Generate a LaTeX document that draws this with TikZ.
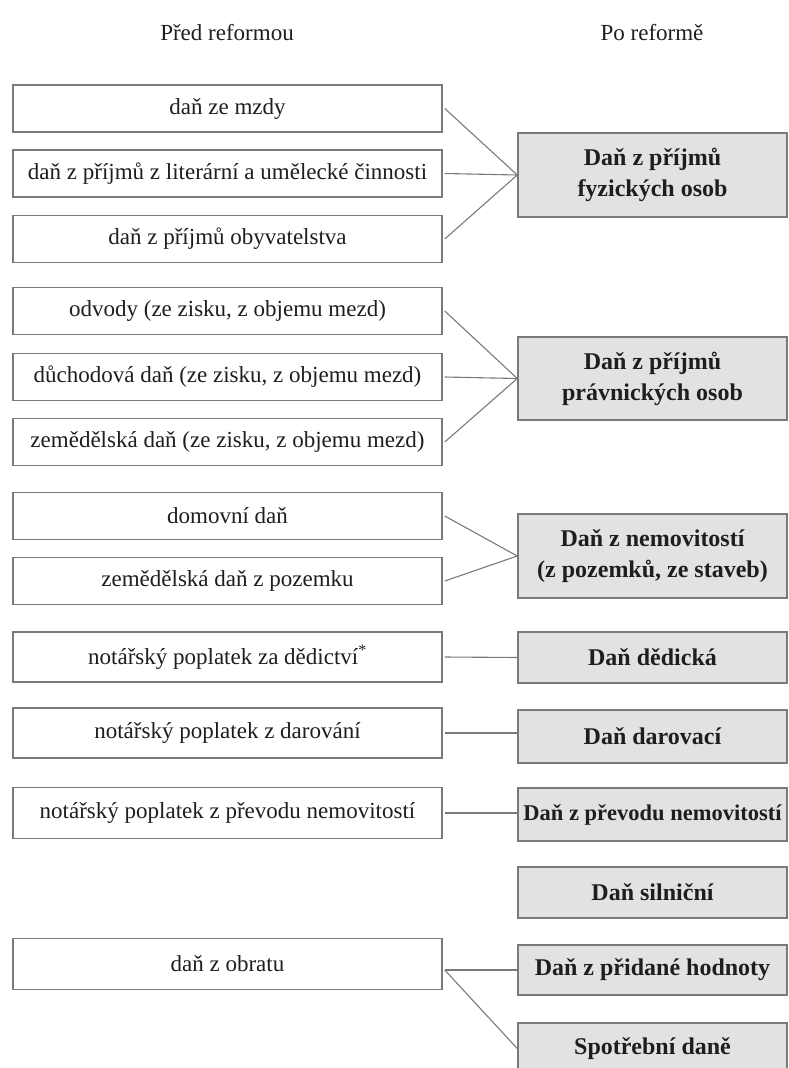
\documentclass[tikz,border=0pt]{standalone}
\usepackage{fontspec}
\setmainfont{Liberation Serif}
\usetikzlibrary{positioning}
\definecolor{ink}{HTML}{1E1E1E}
\definecolor{edge}{HTML}{7A7A7A}
\definecolor{boxfill}{HTML}{E2E2E2}

\begin{document}
\begin{tikzpicture}[
  x=1pt, y=-1pt,
  font=\fontsize{23}{27}\selectfont,
  head/.style = {text=ink},
  old/.style  = {draw=edge, line width=1.5pt, fill=white, text=ink,
                 minimum width=429pt, minimum height=47pt, inner sep=0pt},
  new/.style  = {draw=edge, line width=1.5pt, fill=boxfill, text=ink,
                 font=\fontsize{24}{31}\selectfont\bfseries, align=center,
                 minimum width=269pt, minimum height=51pt, inner sep=0pt},
  conn/.style = {draw=edge, line width=1.1pt},
]
\useasboundingbox (0,0) rectangle (788,1068);
\clip (0,0) rectangle (788,1068);

\node[head] (before) at (227,33) {Před reformou};
\node[head] (after) at (652,33) {Po reformě};

\node[old] (mzda) at (227.5,108.5) {daň ze mzdy};
\node[old] (lit)  at (227.5,173.5) {daň z příjmů z literární a umělecké činnosti};
\node[old] (obyv) at (227.5,239) {daň z příjmů obyvatelstva};
\node[new, minimum height=84pt] (dpfo) at (652.5,175) {Daň z příjmů\\fyzických osob};

\node[old] (odv)  at (227.5,311) {odvody (ze zisku, z objemu mezd)};
\node[old] (duch) at (227.5,377) {důchodová daň (ze zisku, z objemu mezd)};
\node[old] (zem)  at (227.5,442) {zemědělská daň (ze zisku, z objemu mezd)};
\node[new, minimum height=83pt] (dppo) at (652.5,378.5) {Daň z příjmů\\právnických osob};

\node[old] (dom)  at (227.5,516) {domovní daň};
\node[old] (poz)  at (227.5,581) {zemědělská daň z pozemku};
\node[new, minimum height=84pt] (nem) at (652.5,556) {Daň z nemovitostí\\(z pozemků, ze staveb)};

\node[old, minimum height=50pt] (ded)  at (227.5,657) {notářský poplatek za dědictví\textsuperscript{*}};
\node[new] (dded) at (652.5,657.5) {Daň dědická};

\node[old, minimum height=50pt] (dar)  at (227.5,733) {notářský poplatek z darování};
\node[new, minimum height=53pt] (ddar) at (652.5,736.5) {Daň darovací};

\node[old, minimum height=51pt] (prev) at (227.5,813) {notářský poplatek z převodu nemovitostí};
\node[new, minimum height=53pt, font=\fontsize{22.5}{27}\selectfont\bfseries] (dprev) at (652.5,814.5) {Daň z převodu nemovitostí};

\node[new] (siln) at (652.5,892.5) {Daň silniční};

\node[old, minimum height=51pt] (obr) at (227.5,964) {daň z obratu};
\node[new, minimum height=50pt] (dph) at (652.5,970) {Daň z přidané hodnoty};
\node[new] (spot) at (652.5,1048.5) {Spotřební daně};

\draw[conn] ([xshift=2pt]mzda.east) -- (dpfo.west);
\draw[conn] ([xshift=2pt]lit.east) -- (dpfo.west);
\draw[conn] ([xshift=2pt]obyv.east) -- (dpfo.west);
\draw[conn] ([xshift=2pt]odv.east) -- (dppo.west);
\draw[conn] ([xshift=2pt]duch.east) -- (dppo.west);
\draw[conn] ([xshift=2pt]zem.east) -- (dppo.west);
\draw[conn] ([xshift=2pt]dom.east) -- (nem.west);
\draw[conn] ([xshift=2pt]poz.east) -- (nem.west);
\draw[conn] ([xshift=2pt]ded.east) -- (dded.west);
\draw[conn] ([xshift=2pt]dar.east) -- (ddar.west |- dar.east);
\draw[conn] ([xshift=2pt]prev.east) -- (dprev.west |- prev.east);
\draw[conn] ([xshift=2pt,yshift=-6pt]obr.east) -- (dph.west);
\draw[conn] ([xshift=2pt,yshift=-6pt]obr.east) -- (spot.west);

\end{tikzpicture}
\end{document}
